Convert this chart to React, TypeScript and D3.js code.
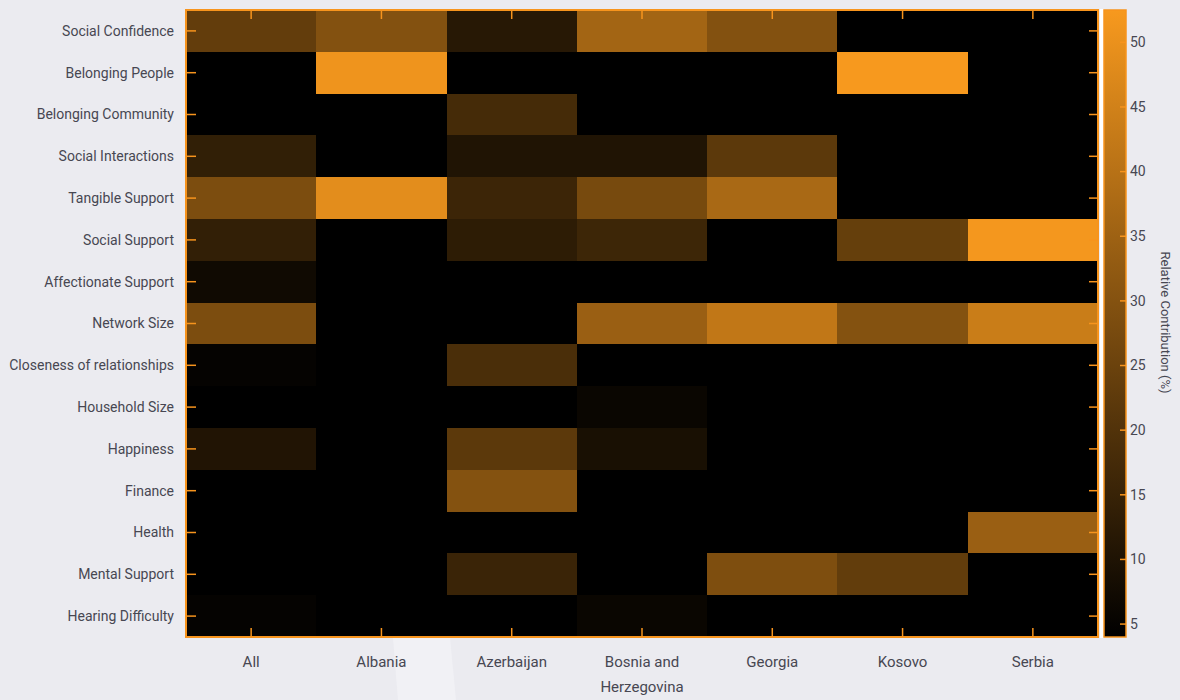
import React from "react";
import * as d3 from "d3";

const countries = ["All", "Albania", "Azerbaijan", "Bosnia and Herzegovina", "Georgia", "Kosovo", "Serbia"];
const factors = [
  "Social Confidence",
  "Belonging People",
  "Belonging Community",
  "Social Interactions",
  "Tangible Support",
  "Social Support",
  "Affectionate Support",
  "Network Size",
  "Closeness of relationships",
  "Household Size",
  "Happiness",
  "Finance",
  "Health",
  "Mental Support",
  "Hearing Difficulty",
];

// Relative contribution (%) per country, in factor order
const allValues = [23.4, 0, 0, 13.7, 28.3, 13.8, 7.1, 28.3, 5, 0, 10.4, 0, 0, 0, 5];
const albaniaValues = [29.7, 51, 0, 0, 48.6, 0, 0, 0, 0, 0, 0, 0, 0, 0, 0];
const azerbaijanValues = [11.7, 0, 17.6, 10.3, 15.8, 12.8, 0, 0, 18.5, 0, 22, 30, 0, 15.3, 0];
const bosniaValues = [36, 0, 0, 10.2, 27.3, 16, 0, 34.2, 0, 6, 9, 0, 0, 0, 6];
const georgiaValues = [29.7, 0, 0, 22, 37.2, 0, 0, 41.8, 0, 0, 0, 0, 0, 28.7, 0];
const kosovoValues = [0, 52.5, 0, 0, 0, 23.9, 0, 30, 0, 0, 0, 0, 0, 23.3, 0];
const serbiaValues = [0, 0, 0, 0, 0, 52, 0, 43.5, 0, 0, 0, 0, 34.2, 0, 0];

const seriesByCountry = [allValues, albaniaValues, azerbaijanValues, bosniaValues, georgiaValues, kosovoValues, serbiaValues];

const colorTicks = [5, 10, 15, 20, 25, 30, 35, 40, 45, 50];
const colorDomain = [4, 52.5];
const colorbarTitle = "Relative Contribution (%)";

const ORANGE = "#F7991E";
const AXIS = "#F7941D";
const TEXT = "#474752";
const FONT = "Roboto, 'Noto Sans', sans-serif";

function wrapLabel(s: string, maxChars = 12): string[] {
  const words = s.split(" ");
  const lines: string[] = [];
  let cur = "";
  for (const w of words) {
    const next = cur ? cur + " " + w : w;
    if (next.length > maxChars && cur) {
      lines.push(cur);
      cur = w;
    } else cur = next;
  }
  if (cur) lines.push(cur);
  return lines;
}

export default function App() {
  const W = 1180;
  const H = 700;
  const left = 186, right = 1098, top = 10, bottom = 637;
  const cbX0 = 1104, cbX1 = 1126;

  const x = d3.scaleBand<string>().domain(countries).range([left, right]);
  const y = d3.scaleBand<string>().domain(factors).range([top, bottom]);
  const color = d3
    .scaleLinear<string>()
    .domain(colorDomain)
    .range(["#000000", ORANGE])
    .interpolate(d3.interpolateRgb)
    .clamp(true);
  const cy = d3.scaleLinear().domain(colorDomain).range([bottom, top]);

  const cells: { c: string; f: string; v: number }[] = [];
  countries.forEach((c, ci) => {
    factors.forEach((f, fi) => cells.push({ c, f, v: seriesByCountry[ci][fi] }));
  });

  const tickLen = 9;

  return (
    <svg width={W} height={H} style={{ position: "absolute", left: 0, top: 0, display: "block" }}>
      <rect x={0} y={0} width={W} height={H} fill="#EBEBF0" />
      <polygon points={`393,638 450,638 456,${H} 398,${H}`} fill="#F1F1F5" />
      <defs>
        <linearGradient id="cbgrad" x1="0" y1="1" x2="0" y2="0">
          <stop offset="0%" stopColor="#000000" />
          <stop offset="100%" stopColor={ORANGE} />
        </linearGradient>
      </defs>

      {/* cells */}
      <rect x={left} y={top} width={right - left} height={bottom - top} fill="#000" />
      {cells.map((d, i) => (
        <rect
          key={i}
          x={x(d.c)!}
          y={y(d.f)!}
          width={x.bandwidth()}
          height={y.bandwidth()}
          fill={color(d.v)}
          shapeRendering="crispEdges"
        />
      ))}

      {/* frame */}
      <rect x={left} y={top} width={right - left} height={bottom - top} fill="none" stroke={AXIS} strokeWidth={2} />

      {/* ticks: inside on all sides */}
      {countries.map((c) => {
        const cx = x(c)! + x.bandwidth() / 2;
        return (
          <g key={c}>
            <line x1={cx} x2={cx} y1={top} y2={top + tickLen} stroke={AXIS} strokeWidth={1.5} />
            <line x1={cx} x2={cx} y1={bottom} y2={bottom - tickLen} stroke={AXIS} strokeWidth={1.5} />
          </g>
        );
      })}
      {factors.map((f) => {
        const yy = y(f)! + y.bandwidth() / 2;
        return (
          <g key={f}>
            <line x1={left} x2={left + 10} y1={yy} y2={yy} stroke={AXIS} strokeWidth={1.5} />
            <line x1={right} x2={right - 9} y1={yy} y2={yy} stroke={AXIS} strokeWidth={1.5} />
          </g>
        );
      })}

      {/* y labels */}
      {factors.map((f) => (
        <text
          key={f}
          x={left - 12}
          y={y(f)! + y.bandwidth() / 2}
          dy="0.35em"
          textAnchor="end"
          fontFamily={FONT}
          fontSize={14}
          fill={TEXT}
        >
          {f}
        </text>
      ))}

      {/* x labels */}
      {countries.map((c) => {
        const lines = wrapLabel(c);
        const cx = x(c)! + x.bandwidth() / 2;
        return (
          <text key={c} x={cx} y={667} textAnchor="middle" fontFamily={FONT} fontSize={15} fill={TEXT}>
            {lines.map((l, i) => (
              <tspan key={i} x={cx} dy={i === 0 ? 0 : 25}>
                {l}
              </tspan>
            ))}
          </text>
        );
      })}

      {/* colorbar */}
      <rect x={right + 2} y={top - 1} width={cbX0 - right - 2} height={bottom - top + 2} fill="#FFFFFF" />
      <rect x={cbX0} y={top} width={cbX1 - cbX0} height={bottom - top} fill="url(#cbgrad)" stroke={AXIS} strokeWidth={1.5} />
      {colorTicks.map((t) => (
        <g key={t}>
          <line x1={cbX1} x2={cbX1 - 6} y1={cy(t)} y2={cy(t)} stroke={AXIS} strokeWidth={1.5} />
          <text x={cbX1 + 4} y={cy(t)} dy="0.35em" fontFamily={FONT} fontSize={14} fill={TEXT}>
            {t}
          </text>
        </g>
      ))}
      <text
        transform={`translate(1161, ${(top + bottom) / 2 - 1}) rotate(90)`}
        textAnchor="middle"
        fontFamily={FONT}
        fontSize={13}
        fill={TEXT}
      >
        {colorbarTitle}
      </text>
    </svg>
  );
}
